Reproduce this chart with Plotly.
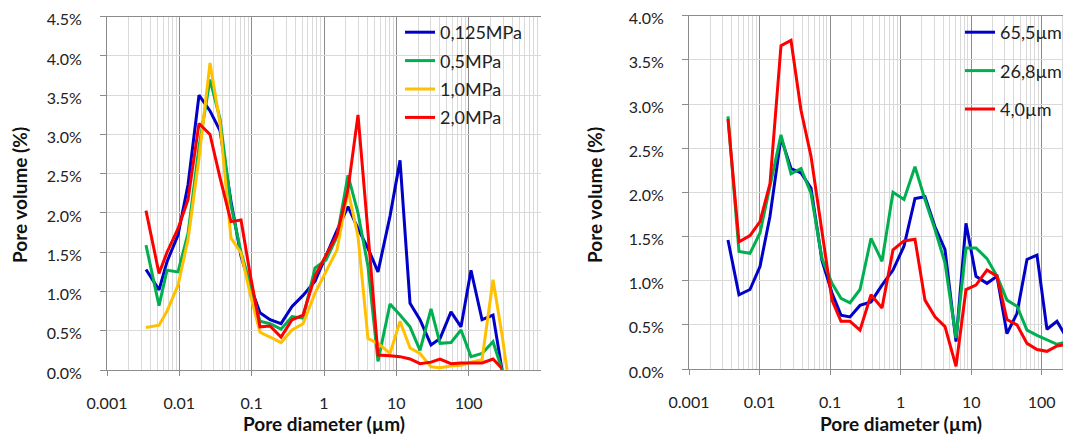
import plotly.graph_objects as go

# ---------------- Left chart: pressure series ----------------
left_d = [0.00346, 0.00524, 0.00676, 0.00959, 0.01318, 0.01871, 0.02655, 0.03648,
          0.05176, 0.07125, 0.09484, 0.1303, 0.1795, 0.2547, 0.3614, 0.5129, 0.7516,
          1.066, 1.513, 2.147, 2.952, 4.057, 5.578, 8.18, 11.25, 15.46, 21.25, 30.16,
          40.17, 57.0, 78.4, 107.7, 153.0, 217.2, 289.1, 339.0]

p0125 = [1.28, 1.02, 1.38, 1.72, 2.36, 3.50, 3.30, 3.05, 2.15, 1.45, 1.08, 0.73, 0.64,
         0.59, 0.81, 0.95, 1.13, 1.46, 1.78, 2.08, 1.80, 1.55, 1.25, 1.96, 2.67, 0.85,
         0.64, 0.32, 0.40, 0.74, 0.55, 1.27, 0.64, 0.70, 0.0, None]
p05 = [1.59, 0.82, 1.27, 1.25, 1.74, 2.84, 3.70, 3.20, 2.10, 1.50, 1.10, 0.62, 0.59,
       0.52, 0.68, 0.66, 1.30, 1.40, 1.70, 2.48, 2.00, 1.32, 0.11, 0.84, 0.70, 0.55,
       0.25, 0.78, 0.34, 0.35, 0.51, 0.17, 0.21, 0.36, 0.0, None]
p10 = [0.54, 0.57, 0.75, 1.08, 1.66, 2.70, 3.91, 3.14, 1.68, 1.49, 0.98, 0.48, 0.42,
       0.35, 0.51, 0.59, 0.98, 1.25, 1.53, 2.29, 1.70, 0.40, 0.34, 0.21, 0.62, 0.28,
       0.21, 0.04, 0.03, 0.05, 0.06, 0.10, 0.13, 1.15, 0.45, 0.0]
p20 = [2.03, 1.23, 1.50, 1.80, 2.17, 3.14, 3.00, 2.45, 1.89, 1.91, 1.23, 0.55, 0.56,
       0.42, 0.64, 0.70, 1.20, 1.45, 1.72, 2.30, 3.25, 1.75, 0.19, 0.18, 0.17, 0.14,
       0.08, 0.10, 0.14, 0.08, 0.09, 0.09, 0.09, 0.14, 0.02, None]
left_names = ["0,125MPa", "0,5MPa", "1,0MPa", "2,0MPa"]

# ---------------- Right chart: particle-size series ----------------
right_d = [0.00357, 0.00511, 0.00732, 0.01015, 0.01406, 0.02014, 0.02793, 0.03869,
           0.05358, 0.07673, 0.1064, 0.1427, 0.1914, 0.2655, 0.3802, 0.5445, 0.7798,
           1.115, 1.597, 2.213, 3.069, 4.256, 6.095, 8.44, 11.70, 16.75, 23.22, 32.17,
           44.6, 61.8, 85.7, 118.6, 164.4, 235.5, 286.6]

s655 = [1.46, 0.84, 0.90, 1.16, 1.73, 2.62, 2.27, 2.22, 2.05, 1.23, 0.86, 0.61, 0.59,
        0.72, 0.76, 0.95, 1.12, 1.39, 1.93, 1.95, 1.61, 1.35, 0.31, 1.65, 1.05, 0.97,
        1.05, 0.40, 0.63, 1.24, 1.29, 0.45, 0.54, 0.33, 0.15]
s268 = [2.86, 1.33, 1.31, 1.54, 2.07, 2.65, 2.21, 2.27, 1.99, 1.25, 0.97, 0.80, 0.75,
        0.90, 1.48, 1.22, 2.00, 1.92, 2.29, 1.92, 1.58, 1.20, 0.35, 1.37, 1.37, 1.25,
        1.05, 0.78, 0.71, 0.44, 0.38, 0.33, 0.28, 0.31, 0.28]
s40 = [2.83, 1.44, 1.51, 1.67, 2.10, 3.66, 3.72, 2.93, 2.41, 1.54, 0.78, 0.54, 0.54,
       0.44, 0.84, 0.69, 1.35, 1.45, 1.47, 0.78, 0.59, 0.48, 0.03, 0.90, 0.95, 1.12,
       1.05, 0.56, 0.50, 0.29, 0.22, 0.20, 0.26, 0.28, 0.0]
right_names = ["65,5µm", "26,8µm", "4,0µm"]

x_tickvals = [0.001, 0.01, 0.1, 1, 10, 100]
x_ticktext = ["0.001", "0.01", "0.1", "1", "10", "100"]

BLUE, GREEN, YELLOW, RED = "#0000C8", "#00B050", "#FFC000", "#FF0000"
MAJ, MINR, AXC = "#8C8C8C", "#D9D9D9", "#8C8C8C"
FONT = "Lato"

fig = go.Figure()
for ys, nm, col in zip([p0125, p05, p10, p20], left_names, [BLUE, GREEN, YELLOW, RED]):
    fig.add_trace(go.Scatter(x=left_d, y=ys, name=nm, mode="lines",
                             line=dict(color=col, width=3), connectgaps=False,
                             xaxis="x", yaxis="y", legend="legend", legendgroup=nm))
for ys, nm, col in zip([s655, s268, s40], right_names, [BLUE, GREEN, RED]):
    fig.add_trace(go.Scatter(x=right_d, y=ys, name=nm, mode="lines",
                             line=dict(color=col, width=3),
                             xaxis="x2", yaxis="y2", legend="legend2", legendgroup=nm))

W, H = 1071, 434
OFF = 8  # page body margin of the html page


def px(v):
    return (v - OFF) / W


def py(v):
    return (H - (v - OFF)) / H


def xax(domain, rng):
    return dict(type="log", domain=domain, range=rng, tickmode="array", automargin=False,
                tickvals=x_tickvals, ticktext=x_ticktext, ticks="outside", ticklen=5,
                tickcolor=AXC, showline=True, linecolor=AXC, linewidth=1, mirror=True,
                showgrid=True, gridcolor=MAJ, gridwidth=1, zeroline=False,
                minor=dict(dtick="D1", showgrid=True, gridcolor=MINR, gridwidth=1, ticks=""),
                ticklabelstandoff=14, ticklabeloverflow="allow",
                tickfont=dict(family=FONT, size=16, color="#222"))


def yax(domain, rmax, anchor):
    return dict(domain=domain, range=[0, rmax], dtick=0.5, tickformat=".1f", automargin=False,
                ticksuffix="%", ticks="outside", ticklen=6, tickcolor=AXC,
                showline=True, linecolor=AXC, linewidth=1, showgrid=True,
                gridcolor=MINR, zeroline=False, anchor=anchor, ticklabelstandoff=15,
                ticklabeloverflow="allow", ticklabelshift=3,
                tickfont=dict(family=FONT, size=16, color="#222"))


fig.update_layout(
    width=W, height=H, autosize=False,
    margin=dict(l=0, r=0, t=0, b=0, pad=0, autoexpand=False),
    paper_bgcolor="white", plot_bgcolor="white",
    xaxis=dict(**xax([px(107), px(541)], [-3, 3]), anchor="y"),
    yaxis=yax([py(370), py(16.7)], 4.5, "x"),
    xaxis2=dict(**xax([px(689), px(1071)], [-3, 2.415]), anchor="y2"),
    yaxis2=yax([py(369), py(15.7)], 4.0, "x2"),
    legend=dict(x=392 / W, y=(H - 6) / H, xanchor="left", yanchor="top",
                bgcolor="rgba(0,0,0,0)", tracegroupgap=2,
                font=dict(family=FONT, size=18, color="#222")),
    legend2=dict(x=952 / W, y=(H - 6) / H, xanchor="left", yanchor="top",
                 bgcolor="rgba(0,0,0,0)", tracegroupgap=12,
                 font=dict(family=FONT, size=18, color="#222")),
    showlegend=True,
)

title_font = dict(family=FONT, size=19, color="#111", weight="bold")
fig.add_annotation(text="Pore diameter (µm)", xref="x", yref="paper", x=0, y=py(423),
                   showarrow=False, font=title_font, xanchor="center", yanchor="middle")
fig.add_annotation(text="Pore diameter (µm)", xref="x2", yref="paper", x=0, y=py(423),
                   showarrow=False, font=title_font, xanchor="center", yanchor="middle")
fig.add_annotation(text="Pore volume (%)", xref="paper", yref="paper", x=px(20), y=py(195),
                   textangle=-90, showarrow=False, font=title_font, xanchor="center", yanchor="middle")
fig.add_annotation(text="Pore volume (%)", xref="paper", yref="paper", x=px(595), y=py(195),
                   textangle=-90, showarrow=False, font=title_font, xanchor="center", yanchor="middle")

fig.write_html("out.html")
